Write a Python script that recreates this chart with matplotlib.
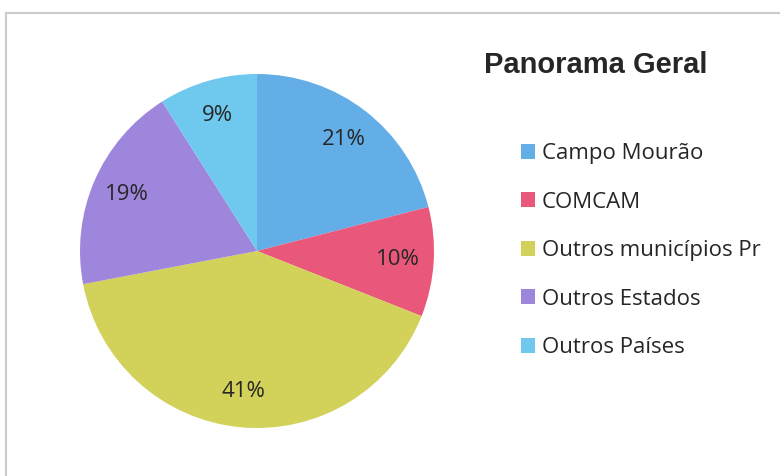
import matplotlib
matplotlib.use("Agg")
import matplotlib.pyplot as plt
from matplotlib.lines import Line2D

categories = ["Campo Mourão", "COMCAM", "Outros municípios Pr", "Outros Estados", "Outros Países"]
values = [21, 10, 41, 19, 9]
colors = ["#64AEE8", "#E9587A", "#D2D15A", "#9E86DC", "#6FC8EE"]
title = "Panorama Geral"

W, H = 780, 476
fig = plt.figure(figsize=(W / 100, H / 100), dpi=100)
fig.patch.set_facecolor("white")

# pie axes: center (257, 251), radius 177 (pixels from top-left)
cx, cy, r = 257, 251, 177
ax = fig.add_axes([(cx - r) / W, (H - cy - r) / H, 2 * r / W, 2 * r / H])
wedges, texts, autotexts = ax.pie(
    values, colors=colors, startangle=90, counterclock=False,
    autopct=lambda p: f"{p:.0f}%", pctdistance=0.8,
    wedgeprops=dict(linewidth=0),
    textprops=dict(fontsize=16, color="#262626", family="Open Sans"),
)
ax.set_xlim(-1, 1)
ax.set_ylim(-1, 1)
ax.set_aspect("equal")
ax.axis("off")

fig.text(484 / W, 1 - 65 / H, title, fontsize=21, fontweight="bold",
         family="Liberation Sans", color="#262626", ha="left", va="center")

leg = fig.legend(wedges, categories, loc="upper left",
                 bbox_to_anchor=(521 / W, 1 - 143 / H),
                 frameon=False, prop=dict(family="Open Sans", size=16),
                 handlelength=0.65, handleheight=0.65, handletextpad=0.3,
                 labelspacing=1.24, borderpad=0, borderaxespad=0)
for t in leg.get_texts():
    t.set_color("#262626")

# thin frame lines (top and left visible)
fig.add_artist(Line2D([6 / W, 1], [1 - 13 / H, 1 - 13 / H], color="#CCCCCC", lw=1.5,
                      transform=fig.transFigure))
fig.add_artist(Line2D([6 / W, 6 / W], [0, 1 - 13 / H], color="#CCCCCC", lw=1.5,
                      transform=fig.transFigure))

fig.savefig("out.png", dpi=100)
